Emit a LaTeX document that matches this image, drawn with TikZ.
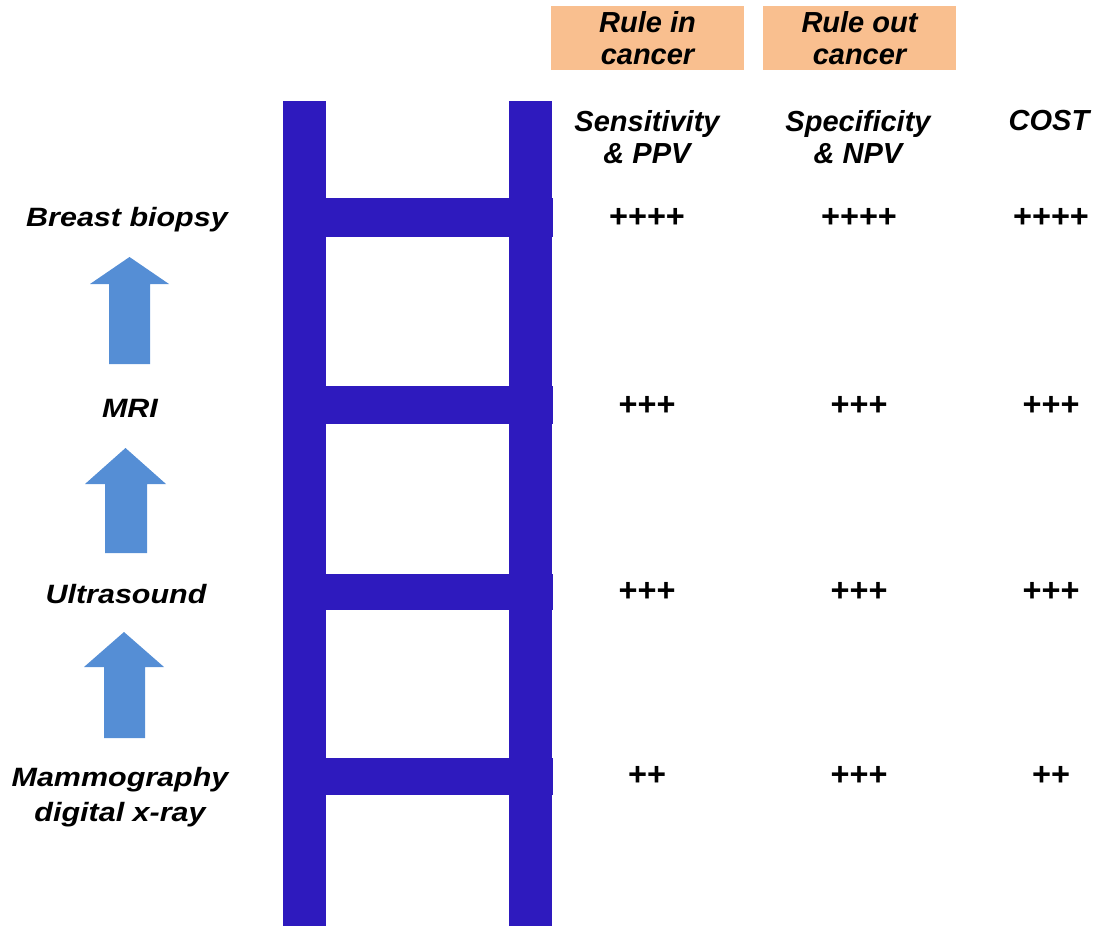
\documentclass[tikz,border=0pt]{standalone}
\usepackage{fontspec}
\setmainfont{Liberation Sans}
\definecolor{ladder}{HTML}{2E1ABE}
\definecolor{upblue}{HTML}{558ED5}
\definecolor{peach}{HTML}{F9BF8F}
\begin{document}
\begin{tikzpicture}[x=1pt, y=-1pt]
	\tikzstyle{label} = [font=\fontsize{29}{31.5}\selectfont\bfseries\itshape, align=center, inner sep=0pt]
	\tikzstyle{step label} = [font=\fontsize{26.5}{35}\selectfont\bfseries\itshape, align=center, inner sep=0pt, xscale=1.15, transform shape]
	\tikzstyle{plus}  = [font=\fontsize{32.5}{33}\selectfont\bfseries, inner sep=0pt]
	\tikzstyle{tag}   = [label, fill=peach, minimum width=193pt, minimum height=64pt]

	\useasboundingbox (0,0) rectangle (1099,926);

	% ladder
	\fill[ladder] (283,101) rectangle (326,926);
	\fill[ladder] (509,101) rectangle (552,926);
	\foreach \top/\bot in {198/237, 386/424, 574/610, 758/795}
		\fill[ladder] (326,\top) rectangle (553,\bot);

	% arrows
	\foreach \tip/\neck/\bot/\hl/\hr/\sl/\sr in {257/284/364/90/169/109/150, 448/484/553/85/166/105/147, 632/667/738/84/164/104/145}
		\fill[upblue] ({(\hl+\hr)/2},\tip) -- (\hr,\neck) -- (\sr,\neck) -- (\sr,\bot)
			-- (\sl,\bot) -- (\sl,\neck) -- (\hl,\neck) -- cycle;

	% headings
	\node[tag] (rulein)  at (647.5,38) {Rule in\\cancer};
	\node[tag] (ruleout) at (859.5,38) {Rule out\\cancer};
	\node[label] (sens) at (647,137) {Sensitivity\\\& PPV};
	\node[label] (spec) at (858,137) {Specificity\\\& NPV};
	\node[label] (cost) at (1049,121) {COST};

	% rows
	\node[step label] (biopsy) at (127,220) {Breast biopsy};
	\node[step label] (mri)    at (130,408) {MRI};
	\node[step label] (us)     at (126,594) {Ultrasound};
	\node[step label] (mammo)  at (120,797) {Mammography\\digital x-ray};

	\foreach \name/\y/\a/\b/\c in {biopsy/218/++++/++++/++++, mri/406/+++/+++/+++, us/592/+++/+++/+++, mammo/776/++/+++/++}
	{
		\node[plus] (\name-sens) at (647,\y) {\a};
		\node[plus] (\name-spec) at (859,\y) {\b};
		\node[plus] (\name-cost) at (1051,\y) {\c};
	}
\end{tikzpicture}
\end{document}
